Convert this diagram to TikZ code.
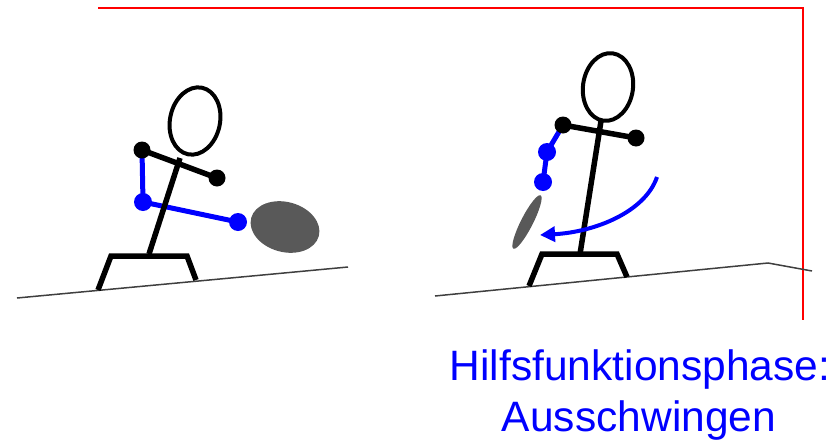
\documentclass[tikz,border=0pt]{standalone}
\usepackage{fontspec}
\setmainfont{Liberation Sans}
\usetikzlibrary{arrows.meta,shapes.geometric}
\definecolor{racketgray}{HTML}{595959}
\definecolor{groundgray}{HTML}{3F3F3F}
\begin{document}
\begin{tikzpicture}[x=1pt,y=-1pt,
  limb/.style={line width=5.5pt, line join=miter},
  armline/.style={blue, line width=5pt, line join=round},
  joint/.style={circle, fill=black, inner sep=0pt, minimum size=17pt},
  bjoint/.style={joint, fill=blue, minimum size=18pt},
  head/.style={ellipse, draw, line width=4pt, minimum width=50pt, minimum height=68pt, inner sep=0pt},
  racketface/.style={ellipse, fill=racketgray, inner sep=0pt},
  groundline/.style={groundgray, line width=1.5pt},
  frameline/.style={red, line width=2pt},
  swing/.style={blue, line width=4pt, -{Triangle[length=15pt,width=15pt]}},
  caption/.style={blue, font=\fontsize{42.5}{51}\selectfont, anchor=base, inner sep=0pt}]
\useasboundingbox (0,0) rectangle (840,442);

% frame corner
\coordinate (f1) at (98,8);
\coordinate (f2) at (803,8);
\coordinate (f3) at (803,320);
\draw[frameline] (f1) -- (f2) -- (f3);

% ---------- left figure: backswing ----------
\coordinate (g1) at (17,298);
\coordinate (g2) at (348,267);
\draw[groundline] (g1) -- (g2);

\coordinate (Lneck) at (180,158);
\coordinate (Lhip)  at (149,254);
\coordinate (Lsh1)  at (142,150);
\coordinate (Lsh2)  at (217,178);
\coordinate (Lel)   at (143,202);
\coordinate (Lwr)   at (238,222);
\coordinate (Lf1) at (98,290);
\coordinate (Lf2) at (111,256);
\coordinate (Lf3) at (187,256);
\coordinate (Lf4) at (196,280);

\node[racketface, minimum width=70pt, minimum height=50pt, rotate=-15] (Lracket) at (285,227) {};
\draw[armline] (Lsh1) -- (Lel) -- (Lwr);
\draw[limb] (Lneck) -- (Lhip);
\draw[limb] (Lsh1) -- (Lsh2);
\draw[limb] (Lf1) -- (Lf2) -- (Lf3) -- (Lf4);
\node[head, rotate=-12] (Lhead) at (195,121) {};
\node[joint]  (Lj1) at (Lsh1) {};
\node[joint]  (Lj2) at (Lsh2) {};
\node[bjoint] (Lj3) at (Lel) {};
\node[bjoint] (Lj4) at (Lwr) {};

% ---------- right figure: follow-through ----------
\coordinate (r1) at (435,296);
\coordinate (r2) at (768,263);
\coordinate (r3) at (812,271);
\draw[groundline] (r1) -- (r2) -- (r3);

\coordinate (Rneck) at (601,121);
\coordinate (Rhip)  at (580,254);
\coordinate (Rsh1)  at (563,125);
\coordinate (Rsh2)  at (636,138);
\coordinate (Rel)   at (547,152);
\coordinate (Rwr)   at (543,182);
\coordinate (Rf1) at (529,286);
\coordinate (Rf2) at (542,254);
\coordinate (Rf3) at (617,254);
\coordinate (Rf4) at (627,277);

\node[racketface, minimum width=12pt, minimum height=60pt, rotate=-27] (Rracket) at (527,222) {};
\draw[armline] (Rsh1) -- (Rel) -- (Rwr);
\draw[limb] (Rneck) -- (Rhip);
\draw[limb] (Rsh1) -- (Rsh2);
\draw[limb] (Rf1) -- (Rf2) -- (Rf3) -- (Rf4);
\node[head, rotate=-8] (Rhead) at (608,87) {};
\node[joint]  (Rj1) at (Rsh1) {};
\node[joint]  (Rj2) at (Rsh2) {};
\node[bjoint] (Rj3) at (Rel) {};
\node[bjoint] (Rj4) at (Rwr) {};

% swing direction
\coordinate (s1) at (657,177);
\coordinate (s2) at (540,235);
\draw[swing] (s1) .. controls (645,212) and (595,232) .. (s2);

% phase label
\node[caption] (t1) at (640,380) {Hilfsfunktionsphase:};
\node[caption] (t2) at (639,431) {Ausschwingen};
\end{tikzpicture}
\end{document}
